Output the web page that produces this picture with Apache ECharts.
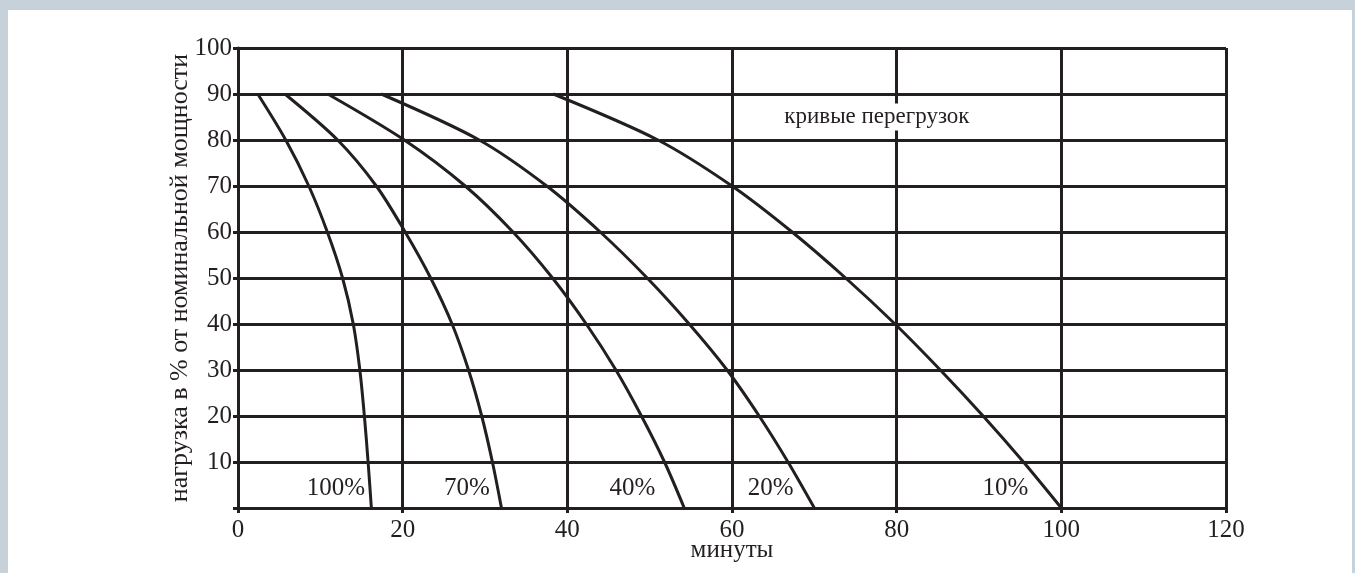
<!DOCTYPE html>
<html>
<head>
<meta charset="utf-8">
<script src="https://cdn.jsdelivr.net/npm/echarts@6/dist/echarts.min.js"></script>
<style>
  html, body { margin: 0; padding: 0; background: #c7d1d9; width: 1355px; height: 573px; overflow: hidden; }
  #chart { position: absolute; left: 8px; top: 10px; width: 1344px; height: 563px; background: #ffffff; }
</style>
</head>
<body>
<div id="chart"></div>
<script>
// ---- data (x = minutes, y = load % of rated power) ----
const xTicks = [0, 20, 40, 60, 80, 100, 120];
const yTicks = [0, 10, 20, 30, 40, 50, 60, 70, 80, 90, 100];

const curve100 = [[2.4,90],[5.8,80],[8.6,70],[10.85,60],[12.7,50],[14.0,40],[14.8,30],[15.35,20],[15.8,10],[16.2,0]];
const curve70  = [[5.7,90],[12.1,80],[16.8,70],[20.3,60],[23.4,50],[26.0,40],[28.0,30],[29.6,20],[30.9,10],[32.0,0]];
const curve40  = [[10.9,90],[20.2,80],[27.6,70],[33.4,60],[38.2,50],[42.3,40],[45.9,30],[49.0,20],[51.8,10],[54.2,0]];
const curve20  = [[17.4,90],[29.3,80],[37.5,70],[44.0,60],[49.7,50],[54.8,40],[59.4,30],[63.3,20],[66.8,10],[70.0,0]];
const curve10  = [[38.3,90],[51.0,80],[60.0,70],[67.3,60],[73.8,50],[79.8,40],[85.3,30],[90.5,20],[95.4,10],[100.0,0]];

const curveNames = ['100%', '70%', '40%', '20%', '10%'];
const curveLabelPos = [[11.9,4.2],[27.8,4.2],[47.9,4.2],[64.7,4.2],[93.2,4.2]];
const titleText = 'кривые перегрузок';
const titlePos = [77.6, 85.0];
const xName = 'минуты';
const yName = 'нагрузка в % от номинальной мощности';

// ---- chart ----
const INK = '#231f20';
const FONT = '"Liberation Serif", "Times New Roman", serif';
const chart = echarts.init(document.getElementById('chart'), null, { renderer: 'canvas' });

const curves = [curve100, curve70, curve40, curve20, curve10];
const lineSeries = curves.map((c, i) => ({
  type: 'line',
  name: curveNames[i],
  data: c,
  smooth: 0.3,
  symbol: 'none',
  lineStyle: { color: INK, width: 3 },
  z: 3
}));

const labelData = curveNames.map((n, i) => [curveLabelPos[i][0], curveLabelPos[i][1], n]);

const option = {
  animation: false,
  backgroundColor: '#ffffff',
  grid: { left: 230, right: 126, top: 38, bottom: 65, outerBoundsMode: 'none', containLabel: false },
  xAxis: {
    type: 'value',
    min: xTicks[0], max: xTicks[xTicks.length - 1], interval: 20,
    name: xName, nameLocation: 'middle', nameGap: 30, nameMoveOverlap: false,
    nameTextStyle: { fontFamily: FONT, fontSize: 25, color: INK },
    axisLine: { show: true, lineStyle: { color: INK, width: 3 } },
    axisTick: { show: true, length: 5, lineStyle: { color: INK, width: 3 } },
    axisLabel: { fontFamily: FONT, fontSize: 25, color: INK, margin: 10 },
    splitLine: { show: true, lineStyle: { color: INK, width: 3 } }
  },
  yAxis: {
    type: 'value',
    min: yTicks[0], max: yTicks[yTicks.length - 1], interval: 10,
    name: yName, nameLocation: 'middle', nameGap: 45, nameRotate: 90, nameMoveOverlap: false,
    nameTextStyle: { fontFamily: FONT, fontSize: 26, color: INK },
    axisLine: { show: true, lineStyle: { color: INK, width: 3 } },
    axisTick: { show: true, length: 5, lineStyle: { color: INK, width: 3 } },
    axisLabel: { fontFamily: FONT, fontSize: 25, color: INK, margin: 6,
      formatter: v => (v === 0 ? '' : String(v)) },
    splitLine: { show: true, lineStyle: { color: INK, width: 3 } }
  },
  series: [
    ...lineSeries,
    {
      type: 'scatter',
      data: labelData,
      symbolSize: 0,
      z: 5,
      silent: true,
      itemStyle: { opacity: 1 },
      label: {
        show: true, position: 'inside',
        formatter: p => p.data[2],
        fontFamily: FONT, fontSize: 25, color: INK
      }
    },
    {
      type: 'scatter',
      data: [[titlePos[0], titlePos[1], titleText]],
      symbolSize: 0,
      z: 6,
      silent: true,
      itemStyle: { opacity: 1 },
      label: {
        show: true, position: 'inside',
        formatter: p => p.data[2],
        fontFamily: FONT, fontSize: 23, color: INK,
        backgroundColor: '#ffffff', padding: [2, 2]
      }
    }
  ]
};
chart.setOption(option);
</script>
</body>
</html>
